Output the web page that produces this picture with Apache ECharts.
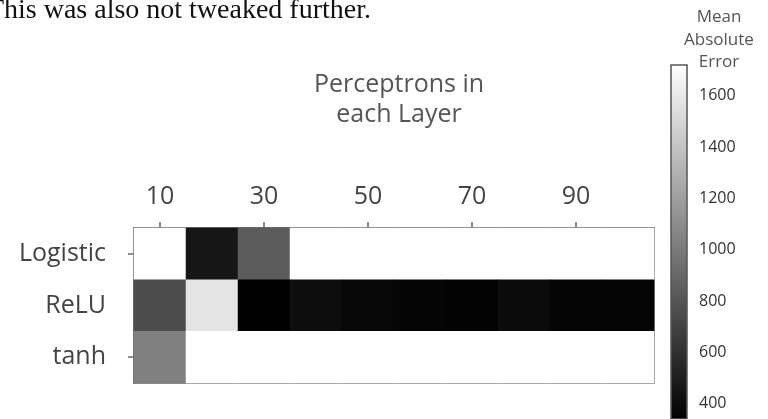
<!DOCTYPE html>
<html>
<head>
<meta charset="utf-8">
<script src="https://cdn.jsdelivr.net/npm/echarts@6/dist/echarts.min.js"></script>
<style>
  html, body { margin: 0; padding: 0; background: #fff; }
  #chart { width: 768px; height: 419px; }
</style>
</head>
<body>
<div id="chart"></div>
<script>
// Activation functions (rows) and layer sizes (columns)
const activations = ['Logistic', 'ReLU', 'tanh'];
const perceptrons = ['10', '20', '30', '40', '50', '60', '70', '80', '90', '100'];

// Mean absolute error for each activation / layer-size pair
const maeLogistic = [1718, 459, 838, 1719, 1718, 1719, 1718, 1719, 1718, 1719];
const maeRelu     = [751, 1574, 345, 410, 378, 367, 356, 400, 367, 362];
const maeTanh     = [1033, 1718, 1719, 1718, 1719, 1718, 1719, 1718, 1719, 1718];

// Colour scale limits and colour bar ticks
const colorMin = 340;
const colorMax = 1720;
const colorTicks = [400, 600, 800, 1000, 1200, 1400, 1600];

const rows = [maeLogistic, maeRelu, maeTanh];
const cells = [];
rows.forEach((vals, r) => vals.forEach((v, c) => cells.push([c, r, v])));

const font = '"Open Sans", "Noto Sans", sans-serif';
const chart = echarts.init(document.getElementById('chart'));

chart.setOption({
  backgroundColor: '#ffffff',
  animation: false,
  grid: [
    { left: 134, right: 114, top: 228, height: 155, show: true,
      borderColor: '#666', borderWidth: 1.5, backgroundColor: 'transparent' },
    { left: 671, width: 16, top: 65, height: 359 }
  ],
  xAxis: [
    {
      type: 'category', gridIndex: 0, position: 'top', data: perceptrons,
      axisLine: { show: true, lineStyle: { color: '#666', width: 1.5 } },
      axisTick: { show: true, interval: 1, alignWithLabel: true, length: 6,
                  lineStyle: { color: '#666', width: 1.5 } },
      axisLabel: { interval: 1, color: '#444', fontSize: 25, fontFamily: font, margin: 19 },
      splitLine: { show: false }
    },
    { type: 'value', gridIndex: 1, show: false, min: 0, max: 1 }
  ],
  yAxis: [
    {
      type: 'category', gridIndex: 0, data: activations, inverse: true,
      axisLine: { show: true, lineStyle: { color: '#666', width: 1.5 } },
      axisTick: { show: true, alignWithLabel: true, length: 6,
                  interval: (i) => i !== 1,
                  lineStyle: { color: '#666', width: 1.5 } },
      axisLabel: { color: '#444', fontSize: 25, fontFamily: font, margin: 28 },
      splitLine: { show: false }
    },
    {
      type: 'value', gridIndex: 1, position: 'right', min: colorMin, max: colorMax,
      axisLine: { show: false },
      axisTick: { show: true, length: 5, customValues: colorTicks,
                  lineStyle: { color: '#555', width: 1.2 } },
      axisLabel: { customValues: colorTicks, color: '#333', fontSize: 16,
                   fontFamily: font, margin: 12, formatter: (v) => String(v) },
      splitLine: { show: false }
    }
  ],
  visualMap: {
    show: false, type: 'continuous', seriesIndex: 0,
    min: colorMin, max: colorMax,
    inRange: { color: ['#000000', '#ffffff'] }
  },
  graphic: [
    {
      type: 'text', x: 371, y: 25,
      style: { text: 'This was also not tweaked further.', fill: '#111',
               align: 'right', verticalAlign: 'bottom',
               font: '28px "Liberation Serif", "Times New Roman", serif' }
    },
    {
      type: 'text', x: 399, y: 70,
      style: { text: 'Perceptrons in\neach Layer', fill: '#555', align: 'center',
               fontSize: 25, lineHeight: 30, fontFamily: font }
    },
    {
      type: 'text', x: 719, y: 6,
      style: { text: 'Mean\nAbsolute\nError', fill: '#555', align: 'center',
               fontSize: 17, lineHeight: 22.5, fontFamily: font }
    }
  ],
  series: [
    {
      type: 'heatmap', xAxisIndex: 0, yAxisIndex: 0, data: cells,
      itemStyle: { borderWidth: 0 }, emphasis: { disabled: true }
    },
    {
      // Colour bar: a gradient rect spanning the colour range on its own axis
      type: 'custom', xAxisIndex: 1, yAxisIndex: 1, silent: true,
      data: [[0, colorMin, colorMax]],
      renderItem: function (params, api) {
        const bottom = api.coord([0, api.value(1)]);
        const top = api.coord([1, api.value(2)]);
        return {
          type: 'rect',
          shape: { x: bottom[0], y: top[1], width: top[0] - bottom[0], height: bottom[1] - top[1] },
          style: {
            fill: new echarts.graphic.LinearGradient(0, 0, 0, 1, [
              { offset: 0, color: '#ffffff' }, { offset: 1, color: '#000000' }
            ]),
            stroke: '#555', lineWidth: 1.5
          }
        };
      }
    }
  ]
});
</script>
</body>
</html>
